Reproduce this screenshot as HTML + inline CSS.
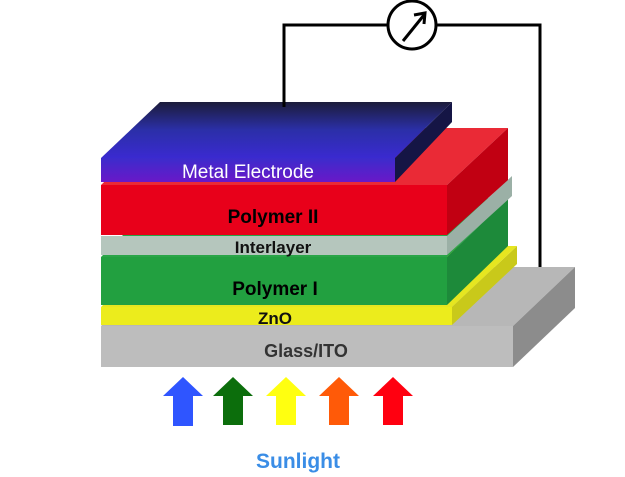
<!DOCTYPE html>
<html><head><style>body{margin:0;background:#fff}svg{display:block}</style></head><body>
<svg width="625" height="477" viewBox="0 0 625 477" xmlns="http://www.w3.org/2000/svg" font-family="Liberation Sans, sans-serif">
<defs>
<linearGradient id="mg" x1="0" y1="0" x2="0" y2="1"><stop offset="0" stop-color="#1c1c3a"/><stop offset="0.5" stop-color="#2b2fa8"/><stop offset="1" stop-color="#3a2ad0"/></linearGradient>
<linearGradient id="mf" x1="0" y1="0" x2="0" y2="1"><stop offset="0" stop-color="#3b2ccc"/><stop offset="1" stop-color="#6a18c8"/></linearGradient>
</defs>
<polyline points="284,107 284,25 387,25" fill="none" stroke="#000" stroke-width="3"/>
<polyline points="437,25 540,25 540,273" fill="none" stroke="#000" stroke-width="3"/>
<circle cx="412" cy="25" r="24" fill="#fff" stroke="#000" stroke-width="3"/>
<line x1="403" y1="41" x2="424" y2="15" stroke="#000" stroke-width="3"/>
<polyline points="414,15 425,13 424,24" fill="none" stroke="#000" stroke-width="3"/>
<polygon points="101,326 160,267 575,267 513,326" fill="#b7b7b7"/>
<polygon points="513,326 575,267 575,308 513,367" fill="#8c8c8c"/>
<rect x="101" y="326" width="412" height="41" fill="#bdbdbd"/>
<polygon points="452,307 517,246 517,264 452,325" fill="#c9c91a"/>
<polygon points="101,307 160,248 517,246 452,307" fill="#e6e620"/>
<rect x="101" y="307" width="351" height="18" fill="#ecec1c"/>
<polygon points="101,257 160,198 508,198 447,257" fill="#2aa548"/>
<polygon points="447,257 508,198 508,246 447,305" fill="#1d8a3a"/>
<rect x="101" y="257" width="346" height="48" fill="#22a040"/>
<polygon points="447,236 512,176 512,196 447,255" fill="#9bb0a6"/>
<rect x="101" y="236" width="346" height="19" fill="#b5c6bd"/>
<polygon points="101,185 160,128 508,128 447,185" fill="#ea2a36"/>
<polygon points="447,185 508,128 508,180 447,235" fill="#c10012"/>
<rect x="101" y="185" width="346" height="50" fill="#e8001a"/>
<polygon points="101,158 160,102 452,102 395,158" fill="url(#mg)"/>
<polygon points="395,158 452,102 452,122 395,182" fill="#151545"/>
<rect x="101" y="158" width="294" height="24" fill="url(#mf)"/>
<line x1="284" y1="100" x2="284" y2="107" stroke="#000" stroke-width="3"/>
<g font-size="19" text-anchor="middle">
<text x="248" y="178" fill="#fff">Metal Electrode</text>
<text x="273" y="223" font-weight="bold" fill="#000">Polymer II</text>
<text x="273" y="253" font-weight="bold" fill="#111" font-size="17">Interlayer</text>
<text x="275" y="295" font-weight="bold" fill="#000">Polymer I</text>
<text x="275" y="324" font-weight="bold" fill="#111" font-size="17">ZnO</text>
<text x="306" y="357" font-weight="bold" fill="#333" font-size="18">Glass/ITO</text>
</g>
<g>
<polygon points="183,377 203,396 193,396 193,426 173,426 173,396 163,396" fill="#2f55ff"/>
<polygon points="233,377 253,396 243,396 243,425 223,425 223,396 213,396" fill="#0c6e0c"/>
<polygon points="286,377 306,396 296,396 296,425 276,425 276,396 266,396" fill="#ffff10"/>
<polygon points="339,377 359,396 349,396 349,425 329,425 329,396 319,396" fill="#ff5a08"/>
<polygon points="393,377 413,396 403,396 403,425 383,425 383,396 373,396" fill="#ff0010"/>
</g>
<text x="298" y="468" text-anchor="middle" font-size="21" font-weight="bold" fill="#3a8de6">Sunlight</text>
</svg>
</body></html>
